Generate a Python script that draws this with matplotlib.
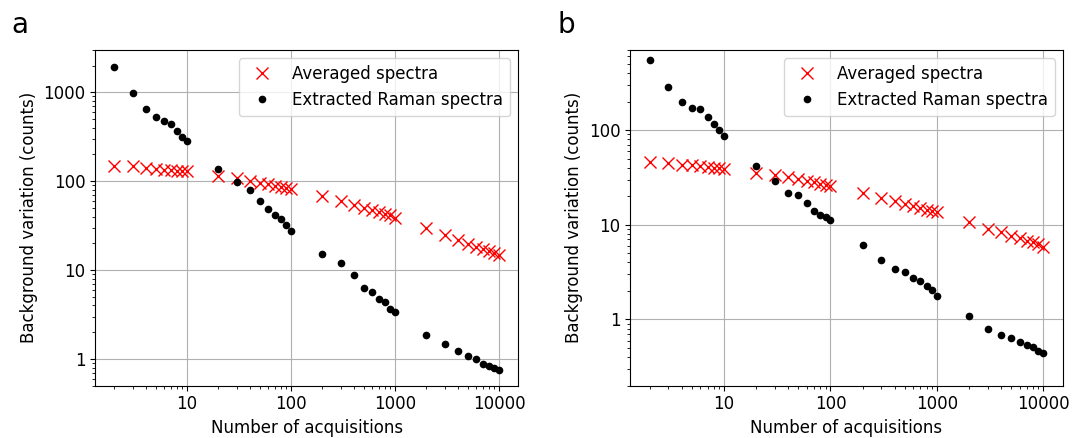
import matplotlib
matplotlib.use("Agg")
import matplotlib.pyplot as plt
from matplotlib.ticker import ScalarFormatter, NullFormatter

plt.rcParams['font.family'] = ['DejaVu Sans']
plt.rcParams['font.size'] = 12

acquisitions = [2, 3, 4, 5, 6, 7, 8, 9, 10,
                20, 30, 40, 50, 60, 70, 80, 90, 100,
                200, 300, 400, 500, 600, 700, 800, 900, 1000,
                2000, 3000, 4000, 5000, 6000, 7000, 8000, 9000, 10000]

avg_a = [149, 148, 140, 136, 134, 133, 132, 132, 131,
         115, 109, 100, 95, 92, 88.5, 85.7, 84, 82.6,
         67.8, 59.6, 54.3, 50.2, 47.2, 44.8, 42.6, 41.2, 38.8,
         29.4, 24.7, 21.7, 19.6, 18.1, 17.1, 16.2, 15.7, 14.9]
raman_a = [1950, 990, 655, 532, 476, 437, 365, 312, 281,
           139, 97.5, 80, 59.6, 48.4, 41.5, 37.4, 32, 27.9,
           15.2, 12.1, 8.8, 6.3, 5.66, 4.72, 4.33, 3.65, 3.37,
           1.86, 1.49, 1.23, 1.07, 1.0, 0.87, 0.84, 0.80, 0.745]

avg_b = [46.5, 45.0, 43.0, 42.6, 42.0, 41.0, 40.0, 39.3, 38.5,
         35.3, 33.3, 31.7, 30.5, 29.3, 28.1, 27.0, 26.5, 25.7,
         21.5, 19.2, 17.7, 16.6, 15.6, 14.9, 14.4, 13.9, 13.5,
         10.6, 9.08, 8.3, 7.7, 7.17, 6.79, 6.52, 6.21, 5.86]
raman_b = [550, 284, 199, 173, 165, 138, 117, 100, 87,
           42.1, 29.2, 21.7, 20.8, 17.0, 14.1, 12.8, 12.2, 11.3,
           6.1, 4.24, 3.41, 3.15, 2.72, 2.53, 2.24, 2.07, 1.77,
           1.10, 0.80, 0.69, 0.64, 0.577, 0.532, 0.507, 0.467, 0.439]

panels = [
    ("a", avg_a, raman_a, (0.5, 3000)),
    ("b", avg_b, raman_b, (0.2, 700)),
]

fig = plt.figure(figsize=(10.72, 4.38), dpi=100)
W, H = 1072, 438
boxes = [(95, 50, 518.3, 385.7), (630, 50, 1063, 385.7)]
label_pos = [(11, 33), (557, 33)]

for (lab, avg, ram, ylim), (l, t, r, b), (lx, ly) in zip(panels, boxes, label_pos):
    ax = fig.add_axes([l / W, (H - b) / H, (r - l) / W, (b - t) / H])
    ax.plot(acquisitions, avg, 'x', color='red', markersize=8, linestyle='none',
            label='Averaged spectra')
    ax.plot(acquisitions, ram, '.', color='black', markersize=9, linestyle='none',
            label='Extracted Raman spectra')
    ax.set_xscale('log')
    ax.set_yscale('log')
    ax.set_ylim(*ylim)
    ax.grid(True, which='major', color='#b0b0b0', linewidth=0.8)
    for axis in (ax.xaxis, ax.yaxis):
        fmt = ScalarFormatter()
        fmt.set_scientific(False)
        axis.set_major_formatter(fmt)
        axis.set_minor_formatter(NullFormatter())
    ax.set_xlabel('Number of acquisitions')
    ax.set_ylabel('Background variation (counts)')
    ax.legend(loc='upper right')
    fig.text(lx / W, (H - ly) / H, lab, fontsize=20, ha='left', va='baseline')

fig.savefig('out.png', dpi=100)
